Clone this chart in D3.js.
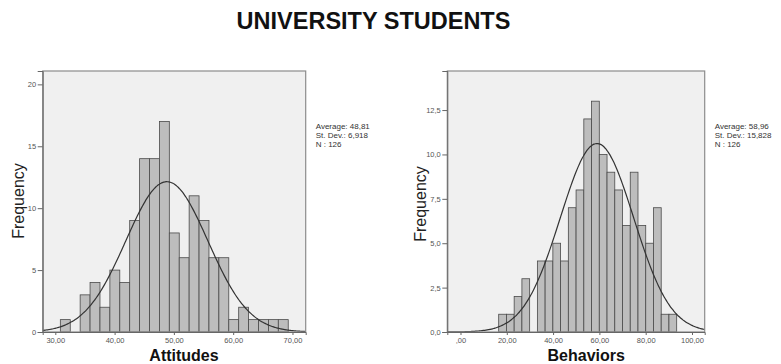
<!DOCTYPE html>
<html>
<head>
<meta charset="utf-8">
<script src="https://cdn.jsdelivr.net/npm/d3@7"></script>
<style>
  html, body { margin: 0; padding: 0; background: #fff; }
  svg { display: block; font-family: "Liberation Sans", Arial, sans-serif; }
</style>
</head>
<body>
<svg id="chart" width="781" height="364"></svg>
<script>
// ---- data ----
const title = "UNIVERSITY STUDENTS";

const attTitle = "Attitudes";
const attCounts = [1,0,3,4,2,5,4,9,14,14,17,8,6,11,9,6,6,1,2,1,1,1,1];
const attBinStart = 30.85;
const attBinWidth = 1.671;
const attMean = 48.81, attSd = 6.918, attN = 126;
const attStats = ["Average: 48,81", "St. Dev.: 6,918", "N : 126"];
const attXTicks = [30, 40, 50, 60, 70];
const attXLabels = ["30,00", "40,00", "50,00", "60,00", "70,00"];
const attYTicks = [0, 5, 10, 15, 20];
const attYLabels = ["0", "5", "10", "15", "20"];

const behTitle = "Behaviors";
const behCounts = [1,1,2,3,0,4,4,5,4,7,8,12,13,10,9,8,6,9,6,5,7,1,1];
const behBinStart = 16.5;
const behBinWidth = 3.343;
const behMean = 58.96, behSd = 15.828, behN = 126;
const behStats = ["Average: 58,96", "St. Dev.: 15,828", "N : 126"];
const behXTicks = [0, 20, 40, 60, 80, 100];
const behXLabels = [",00", "20,00", "40,00", "60,00", "80,00", "100,00"];
const behYTicks = [0, 2.5, 5, 7.5, 10, 12.5];
const behYLabels = ["0,0", "2,5", "5,0", "7,5", "10,0", "12,5"];

// ---- drawing ----
const svg = d3.select("#chart");

svg.append("text")
  .attr("x", 373.5).attr("y", 29.3)
  .attr("text-anchor", "middle")
  .attr("font-size", 23.5).attr("font-weight", "bold")
  .attr("fill", "#111")
  .text(title);

function histogram(cfg) {
  const x = d3.scaleLinear().domain(cfg.xDomain).range(cfg.xRange);
  const y = d3.scaleLinear().domain(cfg.yDomain).range([332, 71]);
  const g = svg.append("g");
  const [x0, x1] = cfg.xRange;

  // plot background
  g.append("rect")
    .attr("x", x0).attr("y", 71)
    .attr("width", x1 - x0).attr("height", 332 - 71)
    .attr("fill", "#f0f0f0");

  // bars
  const bins = cfg.counts.map((c, i) => ({
    lo: cfg.binStart + i * cfg.binWidth,
    hi: cfg.binStart + (i + 1) * cfg.binWidth,
    c
  })).filter(d => d.c > 0);
  g.selectAll("rect.bar").data(bins).join("rect")
    .attr("class", "bar")
    .attr("x", d => x(d.lo))
    .attr("width", d => x(d.hi) - x(d.lo))
    .attr("y", d => y(d.c))
    .attr("height", d => y(0) - y(d.c))
    .attr("fill", "#bdbdbd")
    .attr("stroke", "#4a4a4a")
    .attr("stroke-width", 0.8);

  // normal curve from stated mean/sd/N
  const scale = cfg.n * cfg.binWidth / (cfg.sd * Math.sqrt(2 * Math.PI));
  const pts = d3.range(0, 201).map(k => {
    const xv = cfg.xDomain[0] + (cfg.xDomain[1] - cfg.xDomain[0]) * k / 200;
    const z = (xv - cfg.mean) / cfg.sd;
    return [xv, scale * Math.exp(-0.5 * z * z)];
  });
  g.append("path")
    .attr("d", d3.line().x(d => x(d[0])).y(d => y(d[1])).curve(d3.curveBasis)(pts))
    .attr("fill", "none")
    .attr("stroke", "#333")
    .attr("stroke-width", 1.2);

  // border
  g.append("rect")
    .attr("x", x0).attr("y", 71)
    .attr("width", x1 - x0).attr("height", 332 - 71)
    .attr("fill", "none")
    .attr("stroke", "#8c8c8c")
    .attr("stroke-width", 1.2);

  // y axis
  const yAxis = d3.axisLeft(y).tickValues(cfg.yTicks)
    .tickFormat((d, i) => cfg.yLabels[i]).tickSize(5).tickPadding(1.5);
  const ya = g.append("g").attr("transform", `translate(${x0},0)`).call(yAxis);
  ya.select(".domain").attr("stroke", "#666");
  ya.selectAll(".tick line").attr("stroke", "#666");
  ya.selectAll(".tick text").attr("font-size", 7.5).attr("fill", "#555")
    .attr("font-family", "'Liberation Sans', Arial, sans-serif");

  // x axis
  const xAxis = d3.axisBottom(x).tickValues(cfg.xTicks)
    .tickFormat((d, i) => cfg.xLabels[i]).tickSize(3).tickPadding(2.5);
  const xa = g.append("g").attr("transform", "translate(0,332)").call(xAxis);
  xa.select(".domain").attr("stroke", "#666");
  xa.selectAll(".tick line").attr("stroke", "#666");
  xa.selectAll(".tick text").attr("font-size", 7.5).attr("fill", "#555")
    .attr("font-family", "'Liberation Sans', Arial, sans-serif");

  // axis titles
  g.append("text")
    .attr("x", (x0 + x1) / 2 + cfg.titleDx).attr("y", 361)
    .attr("text-anchor", "middle")
    .attr("font-size", 16).attr("font-weight", "bold").attr("fill", "#111")
    .text(cfg.title);
  g.append("text")
    .attr("transform", `translate(${cfg.freqX},${cfg.freqY}) rotate(-90)`)
    .attr("text-anchor", "middle")
    .attr("font-size", 16).attr("fill", "#222")
    .text("Frequency");

  // stats
  g.selectAll("text.stat").data(cfg.stats).join("text")
    .attr("class", "stat")
    .attr("x", x1 + 10).attr("y", (d, i) => 128.5 + i * 9.3)
    .attr("font-size", 8).attr("fill", "#333")
    .text(d => d);
}

histogram({
  title: attTitle, counts: attCounts, binStart: attBinStart, binWidth: attBinWidth,
  mean: attMean, sd: attSd, n: attN, stats: attStats,
  xTicks: attXTicks, xLabels: attXLabels, yTicks: attYTicks, yLabels: attYLabels,
  xDomain: [27.875, 72.23], xRange: [42.7, 305.7], yDomain: [0, 21.08],
  titleDx: 9.8, freqX: 23.5, freqY: 201
});

histogram({
  title: behTitle, counts: behCounts, binStart: behBinStart, binWidth: behBinWidth,
  mean: behMean, sd: behSd, n: behN, stats: behStats,
  xTicks: behXTicks, xLabels: behXLabels, yTicks: behYTicks, yLabels: behYLabels,
  xDomain: [-5.70, 105.49], xRange: [447.3, 704.7], yDomain: [0, 14.7],
  titleDx: 10.2, freqX: 425.5, freqY: 204
});
</script>
</body>
</html>
